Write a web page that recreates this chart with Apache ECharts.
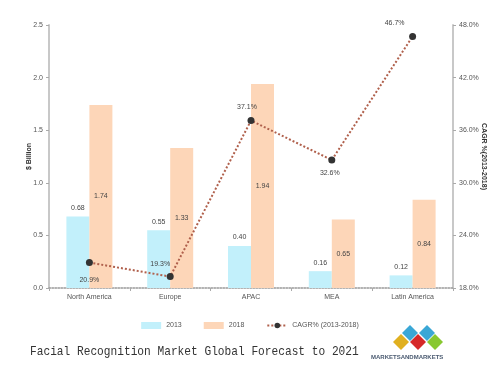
<!DOCTYPE html>
<html><head><meta charset="utf-8">
<script src="https://cdn.jsdelivr.net/npm/echarts@6/dist/echarts.min.js"></script>
<style>html,body{margin:0;padding:0;background:#fff}#c{width:500px;height:371px}</style>
</head><body><div id="c"></div>
<script>
const categories = ['North America', 'Europe', 'APAC', 'MEA', 'Latin America'];
const values2013 = [0.68, 0.55, 0.40, 0.16, 0.12];
const values2018 = [1.74, 1.33, 1.94, 0.65, 0.84];
const cagr = [20.9, 19.3, 37.1, 32.6, 46.7];
const leftTicks = [0, 0.5, 1.0, 1.5, 2.0, 2.5];
const rightTicks = [18, 24, 30, 36, 42, 48];

const cagrLabelPos = ['bottom', 'top', 'top', 'bottom', 'top'];
const cagrLabelOffset = [[0, 4], [-10, 0], [-4, 0], [-2, 0], [-18, 0]];

const chart = echarts.init(document.getElementById('c'));
const axisFont = { fontSize: 7, color: '#555', fontFamily: 'Liberation Sans' };
chart.setOption({
  animation: false,
  grid: { left: 49, right: 47, top: 25, bottom: 83 },
  legend: {
    top: 317, left: 'center', itemWidth: 20, itemHeight: 7, itemGap: 22,
    textStyle: { fontSize: 7, color: '#555', fontFamily: 'Liberation Sans' },
    data: [
      { name: '2013', icon: 'rect' },
      { name: '2018', icon: 'rect' },
      { name: 'CAGR% (2013-2018)' }
    ]
  },
  xAxis: {
    type: 'category', data: categories,
    axisLine: { lineStyle: { color: '#999', type: 'dotted', width: 1.5 } },
    axisTick: { show: true, length: 3, lineStyle: { color: '#aaa' } },
    axisLabel: Object.assign({ margin: 6 }, axisFont)
  },
  yAxis: [{
    type: 'value', min: 0, max: 2.5, interval: 0.5,
    name: '$ Billion', nameLocation: 'middle', nameGap: 16, nameRotate: 90, nameMoveOverlap: false,
    nameTextStyle: { fontSize: 7, color: '#333', fontWeight: 'bold', fontFamily: 'Liberation Sans' },
    axisLine: { show: true, lineStyle: { color: '#c8c8c8', width: 2 } },
    axisTick: { show: true, length: 3, lineStyle: { color: '#aaa' } },
    splitLine: { show: false },
    axisLabel: Object.assign({ formatter: v => v.toFixed(1), margin: 6 }, axisFont)
  }, {
    type: 'value', min: 18, max: 48, interval: 6,
    name: 'CAGR %(2013-2018)', nameLocation: 'middle', nameGap: 27, nameRotate: -90, nameMoveOverlap: false,
    nameTextStyle: { fontSize: 7, color: '#333', fontWeight: 'bold', fontFamily: 'Liberation Sans' },
    axisLine: { show: true, lineStyle: { color: '#c8c8c8', width: 2 } },
    axisTick: { show: true, length: 3, lineStyle: { color: '#aaa' } },
    splitLine: { show: false },
    axisLabel: Object.assign({ formatter: v => v.toFixed(1) + '%', margin: 6 }, axisFont)
  }],
  series: [{
    name: '2013', type: 'bar', data: values2013, barWidth: 23, barGap: '0%',
    itemStyle: { color: '#c2f0fb' },
    label: { show: true, position: 'top', distance: 5, fontSize: 7, color: '#444', formatter: p => p.value.toFixed(2) }
  }, {
    name: '2018', type: 'bar', data: values2018, barWidth: 23,
    itemStyle: { color: '#fdd6b8' },
    label: { show: true, position: 'inside', fontSize: 7, color: '#444', formatter: p => p.value.toFixed(2) }
  }, {
    name: 'CAGR% (2013-2018)', type: 'line', yAxisIndex: 1,
    data: cagr.map((v, i) => ({ value: v, label: { position: cagrLabelPos[i], offset: cagrLabelOffset[i] } })),
    symbol: 'circle', symbolSize: 7,
    itemStyle: { color: '#333' },
    lineStyle: { color: '#b0604c', type: 'dotted', width: 2 },
    label: { show: true, fontSize: 7, color: '#444', distance: 6, formatter: p => p.value.toFixed(1) + '%' },
    z: 5
  }],
  graphic: [
    { type: 'text', left: 30, top: 345, scaleX: 0.86,
      style: { text: 'Facial Recognition Market Global Forecast to 2021', font: '13px "Liberation Mono"', fill: '#333' } },
    { type: 'group', left: 393, top: 325, children: [
      { type: 'polygon', shape: { points: [[8,0],[16,8],[8,16],[0,8]] }, position: [9, 0], style: { fill: '#3aa7d6' } },
      { type: 'polygon', shape: { points: [[8,0],[16,8],[8,16],[0,8]] }, position: [26, 0], style: { fill: '#3aa7d6' } },
      { type: 'polygon', shape: { points: [[8,0],[16,8],[8,16],[0,8]] }, position: [0, 9], style: { fill: '#e0b020' } },
      { type: 'polygon', shape: { points: [[8,0],[16,8],[8,16],[0,8]] }, position: [17, 9], style: { fill: '#d62828' } },
      { type: 'polygon', shape: { points: [[8,0],[16,8],[8,16],[0,8]] }, position: [34, 9], style: { fill: '#88c830' } }
    ] },
    { type: 'text', left: 371, top: 354,
      style: { text: 'MARKETSANDMARKETS', font: 'bold 6px "Liberation Sans"', fill: '#4a5a70' } }
  ]
});
</script></body></html>
